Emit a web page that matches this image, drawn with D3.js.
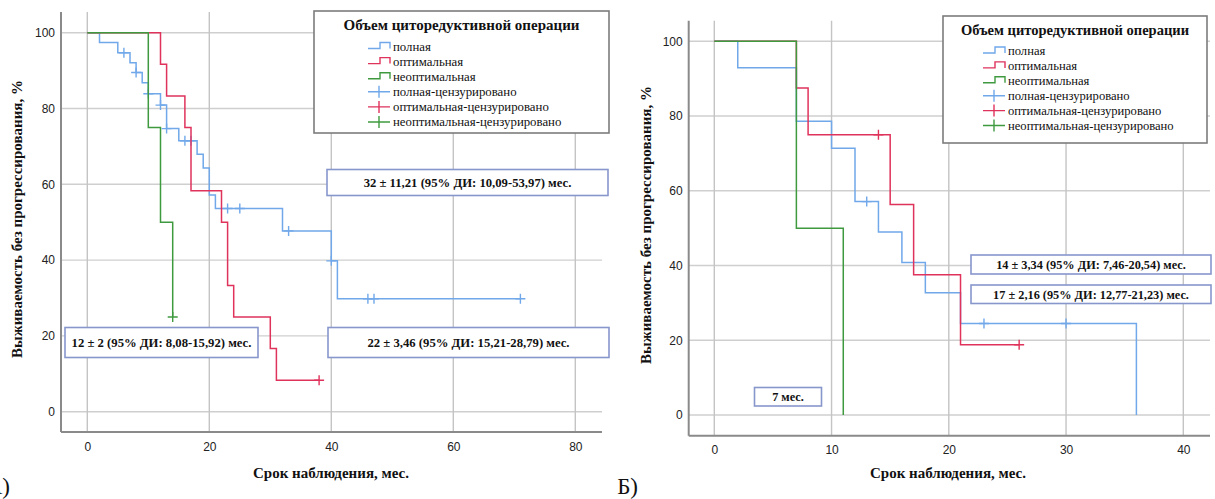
<!DOCTYPE html>
<html><head><meta charset="utf-8">
<script src="https://cdn.jsdelivr.net/npm/d3@7"></script>
<style>
body{margin:0;background:#fff}
svg{display:block}
</style>
</head><body>
<svg id="chart" width="1215" height="499"></svg>
<script>
// ---- shared labels ----
const seriesNames = ["полная", "оптимальная", "неоптимальная"];
const legendLabels = ["полная", "оптимальная", "неоптимальная",
  "полная-цензурировано", "оптимальная-цензурировано", "неоптимальная-цензурировано"];
const legendTitle = "Объем циторедуктивной операции";
const yAxisTitle = "Выживаемость без прогрессирования, %";
const xAxisTitle = "Срок наблюдения, мес.";
const yTicks = [0, 20, 40, 60, 80, 100];
const xTicksA = [0, 20, 40, 60, 80];
const xTicksB = [0, 10, 20, 30, 40];

// ---- panel А: event times (months) and survival after each event (%) ----
const aFullTimes = [2, 5, 7, 8, 9, 10, 12, 13, 15, 18, 19, 20, 21, 32, 40, 41];
const aFullSurv  = [97.4, 94.7, 92.1, 89.5, 86.8, 83.9, 80.9, 74.7, 71.5, 67.9, 64.3, 57.2, 53.6, 47.7, 39.8, 29.8];
const aFullCens  = [6, 8, 10, 12, 13, 16, 17, 23, 25, 33, 40, 46, 47, 71];

const aOptTimes = [12, 13, 16, 17, 22, 23, 24, 30, 31];
const aOptSurv  = [91.7, 83.3, 75, 58.3, 50, 33.3, 25, 16.7, 8.3];
const aOptCens  = [38];

const aSubTimes = [10, 12, 14];
const aSubSurv  = [75, 50, 25];
const aSubCens  = [14];

const aMedians = ["32 ± 11,21 (95% ДИ: 10,09-53,97) мес.",
                  "12 ± 2 (95% ДИ: 8,08-15,92) мес.",
                  "22 ± 3,46 (95% ДИ: 15,21-28,79) мес."];

// ---- panel Б ----
const bFullTimes = [2, 7, 10, 12, 14, 16, 18, 21, 36];
const bFullSurv  = [92.9, 78.6, 71.4, 57.1, 49.0, 40.8, 32.7, 24.5, 0];
const bFullCens  = [13, 23, 30];

const bOptTimes = [7, 8, 15, 17, 21];
const bOptSurv  = [87.5, 75, 56.3, 37.5, 18.8];
const bOptCens  = [14, 26];

const bSubTimes = [7, 11];
const bSubSurv  = [50, 0];
const bSubCens  = [];

const bMedians = ["14 ± 3,34 (95% ДИ: 7,46-20,54) мес.",
                  "17 ± 2,16 (95% ДИ: 12,77-21,23) мес.",
                  "7 мес."];

const panelLabels = ["А)", "Б)"];

const colors = ["#70a8ea", "#e0335c", "#3f9a3f"];
const serif = "'Liberation Serif','Times New Roman',serif";
const sans = "'Liberation Sans',Arial,sans-serif";

const svg = d3.select("#chart");

function survivalAt(times, surv, t) {
  let s = 100;
  times.forEach((tt, i) => { if (tt <= t) s = surv[i]; });
  return s;
}

function drawPanel(cfg) {
  const g = svg.append("g");
  const x = d3.scaleLinear().domain(cfg.xDom).range(cfg.xRange);
  const y = d3.scaleLinear().domain([0, 100]).range(cfg.yRange);
  const left = cfg.frame[0], right = cfg.frame[1], top = cfg.frame[2], bottom = cfg.frame[3];

  // grid
  g.selectAll("line.hg").data(yTicks).join("line")
    .attr("x1", left).attr("x2", right)
    .attr("y1", d => y(d)).attr("y2", d => y(d))
    .attr("stroke", "#cfcfcf").attr("stroke-width", 1.4);
  g.selectAll("line.vg").data(cfg.xTicks).join("line")
    .attr("x1", d => x(d)).attr("x2", d => x(d))
    .attr("y1", top).attr("y2", bottom)
    .attr("stroke", "#c4c4c4").attr("stroke-width", 1.4);

  // axes (labels only, no tick marks)
  const yAxis = d3.axisLeft(y).tickValues(yTicks).tickSize(0).tickPadding(6);
  const ya = g.append("g").attr("transform", `translate(${left},0)`).call(yAxis);
  const xAxis = d3.axisBottom(x).tickValues(cfg.xTicks).tickSize(0).tickPadding(10);
  const xa = g.append("g").attr("transform", `translate(0,${bottom})`).call(xAxis);
  [ya, xa].forEach(a => {
    a.select(".domain").remove();
    a.selectAll("text").attr("font-family", sans).attr("font-size", 12).attr("fill", "#222");
  });
  g.append("line").attr("x1", left).attr("x2", left).attr("y1", top).attr("y2", bottom)
    .attr("stroke", "#8a8a8a").attr("stroke-width", 2);
  g.append("line").attr("x1", left).attr("x2", right).attr("y1", bottom).attr("y2", bottom)
    .attr("stroke", "#8a8a8a").attr("stroke-width", 2);

  // survival curves
  const line = d3.line().x(d => x(d[0])).y(d => y(d[1])).curve(d3.curveStepAfter);
  cfg.series.forEach((s, i) => {
    const last = s.surv[s.surv.length - 1];
    const end = Math.max(s.times[s.times.length - 1], ...(s.cens.length ? s.cens : [0]));
    const pts = [[0, 100]].concat(s.times.map((t, k) => [t, s.surv[k]]));
    pts.push([end, last]);
    g.append("path").attr("d", line(pts)).attr("fill", "none")
      .attr("stroke", colors[i]).attr("stroke-width", 1.5);
    s.cens.forEach(t => {
      const cx = x(t), cy = y(survivalAt(s.times, s.surv, t));
      g.append("path").attr("d", `M${cx - 5},${cy}H${cx + 5}M${cx},${cy - 5}V${cy + 5}`)
        .attr("stroke", colors[i]).attr("stroke-width", 1.4);
    });
  });

  // median annotation boxes
  cfg.boxes.forEach((b, i) => {
    g.append("rect").attr("x", b[0]).attr("y", b[1]).attr("width", b[2]).attr("height", b[3])
      .attr("fill", "#fff").attr("stroke", "#8797cc").attr("stroke-width", 1.6);
    g.append("text").attr("x", b[0] + b[2] / 2).attr("y", b[1] + b[3] / 2 + 4.5)
      .attr("text-anchor", "middle").attr("font-family", serif).attr("font-weight", "bold")
      .attr("font-size", cfg.boxFont).attr("fill", "#111").text(cfg.medians[i]);
  });

  // legend
  const L = cfg.legend;
  g.append("rect").attr("x", L.x).attr("y", L.y).attr("width", L.w).attr("height", L.h)
    .attr("fill", "#fff").attr("stroke", "#7c7c7c").attr("stroke-width", 1.6);
  g.append("text").attr("x", L.x + L.w / 2).attr("y", L.titleY).attr("text-anchor", "middle")
    .attr("font-family", serif).attr("font-weight", "bold").attr("font-size", L.titleSize)
    .attr("fill", "#111").text(legendTitle);
  legendLabels.forEach((lab, i) => {
    const yy = L.rowY + i * L.rowH;
    const c = colors[i % 3];
    const sx = L.symX;
    if (i < 3) {
      g.append("path").attr("d", `M${sx},${yy + 2}H${sx + 12}V${yy - 4}H${sx + 22}V${yy + 2}`)
        .attr("fill", "none").attr("stroke", c).attr("stroke-width", 1.4);
    } else {
      g.append("path").attr("d", `M${sx},${yy}H${sx + 22}M${sx + 11},${yy - 6}V${yy + 6}`)
        .attr("fill", "none").attr("stroke", c).attr("stroke-width", 1.4);
    }
    g.append("text").attr("x", sx + 25).attr("y", yy + 4).attr("font-family", serif)
      .attr("font-size", L.itemSize).attr("fill", "#111").text(lab);
  });

  // axis titles
  g.append("text").attr("transform", `translate(${cfg.yTitle[0]},${cfg.yTitle[1]}) rotate(-90)`)
    .attr("text-anchor", "middle").attr("font-family", serif).attr("font-weight", "bold")
    .attr("font-size", 15).attr("fill", "#111").text(yAxisTitle);
  g.append("text").attr("x", cfg.xTitle[0]).attr("y", cfg.xTitle[1])
    .attr("text-anchor", "middle").attr("font-family", serif).attr("font-weight", "bold")
    .attr("font-size", 15).attr("fill", "#111").text(xAxisTitle);

  g.append("text").attr("x", cfg.panelLabel[0]).attr("y", cfg.panelLabel[1])
    .attr("text-anchor", "end").attr("font-family", serif).attr("font-size", 23)
    .attr("fill", "#111").text(cfg.label);
}

drawPanel({
  xDom: [0, 80], xRange: [87.3, 575.3], yRange: [411.7, 32.7],
  frame: [61, 602, 12, 432], xTicks: xTicksA,
  series: [
    {times: aFullTimes, surv: aFullSurv, cens: aFullCens},
    {times: aOptTimes, surv: aOptSurv, cens: aOptCens},
    {times: aSubTimes, surv: aSubSurv, cens: aSubCens}
  ],
  medians: aMedians, boxFont: 12.7,
  boxes: [[327, 169.5, 281, 26], [65, 327.5, 193, 30], [328, 327.5, 281, 30]],
  legend: {x: 314, y: 11, w: 295, h: 122, titleY: 30, titleSize: 15, rowY: 46.5, rowH: 15.1,
           symX: 368, itemSize: 12.8},
  yTitle: [22, 219], xTitle: [331, 478],
  label: panelLabels[0], panelLabel: [10, 494]
});

drawPanel({
  xDom: [0, 40], xRange: [714.3, 1183.3], yRange: [415, 41.3],
  frame: [688.7, 1210, 20.7, 435.7], xTicks: xTicksB,
  series: [
    {times: bFullTimes, surv: bFullSurv, cens: bFullCens},
    {times: bOptTimes, surv: bOptSurv, cens: bOptCens},
    {times: bSubTimes, surv: bSubSurv, cens: bSubCens}
  ],
  medians: bMedians, boxFont: 12.3,
  boxes: [[971, 255, 240, 19], [971, 285, 240, 18.5], [754.5, 387.5, 67, 18.5]],
  legend: {x: 943, y: 16, w: 264, h: 127, titleY: 35, titleSize: 14.5, rowY: 51, rowH: 14.9,
           symX: 983, itemSize: 12.6},
  yTitle: [651, 225], xTitle: [948, 478],
  label: panelLabels[1], panelLabel: [638, 494]
});
</script>
</body></html>
